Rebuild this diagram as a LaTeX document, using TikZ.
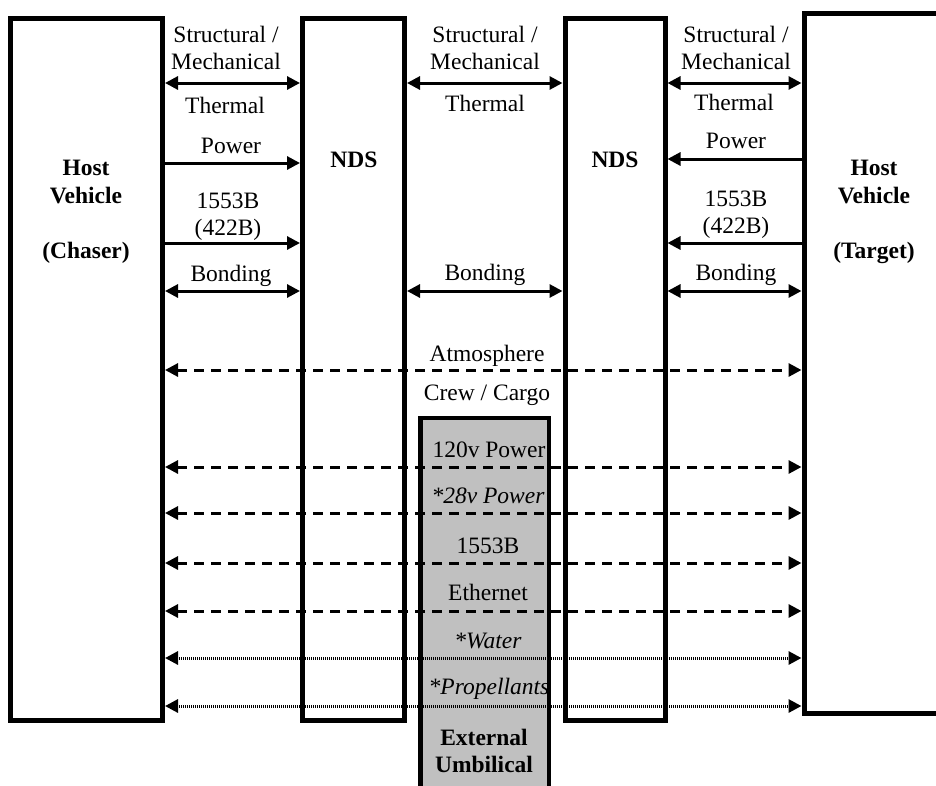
\documentclass[tikz,border=0pt]{standalone}
\usepackage{fontspec}
\setmainfont{Liberation Serif}
\usetikzlibrary{arrows.meta}
\definecolor{umbgray}{HTML}{C0C0C0}
\begin{document}
\begin{tikzpicture}[x=1pt,y=-1pt,
  >={Triangle[length=13pt,width=13pt]},
  hbox/.style={draw,line width=5pt,inner sep=0pt,rectangle},
  lab/.style={font=\fontsize{23.5}{27}\selectfont,inner sep=0pt,anchor=base,align=center},
  blab/.style={lab,font=\fontsize{23.5}{28}\selectfont\bfseries},
  ilab/.style={lab,font=\fontsize{23.5}{27}\selectfont\itshape},
  sline/.style={line width=3pt},
  dline/.style={line width=3pt,dash pattern=on 10pt off 7pt},
  oline/.style={line width=3pt,dash pattern=on 1pt off 1pt}]
\useasboundingbox (0,0) rectangle (936,785);
\clip (0,0) rectangle (936,785);
% boxes
\node[hbox,minimum width=152pt,minimum height=702pt] (lhost) at (86.5,369.5) {};
\node[hbox,minimum width=102pt,minimum height=702pt] (lnds) at (353.5,369.5) {};
\node[hbox,minimum width=100pt,minimum height=702pt] (rnds) at (615,369.5) {};
\node[hbox,minimum width=200pt,minimum height=700pt] (rhost) at (904,363) {};
\node[rectangle,fill=umbgray,inner sep=0pt,outer sep=0pt,minimum width=128.5pt,minimum height=400pt] (umb) at (484.75,618) {};
% levels
\coordinate (ys) at (0,83);
\coordinate (yp) at (0,163);
\coordinate (yq) at (0,159);
\coordinate (yb) at (0,243);
\coordinate (yn) at (0,291);
\coordinate (ya) at (0,370);
\coordinate (y1) at (0,467);
\coordinate (y2) at (0,513);
\coordinate (y3) at (0,563);
\coordinate (y4) at (0,611);
\coordinate (y5) at (0,658);
\coordinate (y6) at (0,706);
% left column
\draw[sline,<->] (lhost.east |- ys) -- (lnds.west |- ys);
\draw[sline,->] (lhost.east |- yp) -- (lnds.west |- yp);
\draw[sline,->] (lhost.east |- yb) -- (lnds.west |- yb);
\draw[sline,<->] (lhost.east |- yn) -- (lnds.west |- yn);
% middle column
\draw[sline,<->] (lnds.east |- ys) -- (rnds.west |- ys);
\draw[sline,<->] (lnds.east |- yn) -- (rnds.west |- yn);
% right column
\draw[sline,<->] (rnds.east |- ys) -- (rhost.west |- ys);
\draw[sline,->] (rhost.west |- yq) -- (rnds.east |- yq);
\draw[sline,->] (rhost.west |- yb) -- (rnds.east |- yb);
\draw[sline,<->] (rnds.east |- yn) -- (rhost.west |- yn);
% long lines
\draw[dline,<->] (lhost.east |- ya) -- (rhost.west |- ya);
\draw[dline,<->] (lhost.east |- y1) -- (rhost.west |- y1);
\draw[dline,<->] (lhost.east |- y2) -- (rhost.west |- y2);
\draw[dline,<->] (lhost.east |- y3) -- (rhost.west |- y3);
\draw[dline,<->] (lhost.east |- y4) -- (rhost.west |- y4);
\draw[oline,<->] (lhost.east |- y5) -- (rhost.west |- y5);
\draw[oline,<->] (lhost.east |- y6) -- (rhost.west |- y6);
% labels left
\node[lab] (l1) at (226,69) {Structural /\\Mechanical};
\node[lab] (l2) at (225,113) {Thermal};
\node[lab] (l3) at (231,153) {Power};
\node[lab] (l4) at (228,235) {1553B\\(422B)};
\node[lab] (l5) at (231,281) {Bonding};
% labels middle
\node[lab] (m1) at (485,69) {Structural /\\Mechanical};
\node[lab] (m2) at (485,111) {Thermal};
\node[lab] (m3) at (485,280) {Bonding};
% labels right
\node[lab] (r1) at (736,69) {Structural /\\Mechanical};
\node[lab] (r2) at (734,110) {Thermal};
\node[lab] (r3) at (736,148) {Power};
\node[lab] (r4) at (736,233) {1553B\\(422B)};
\node[lab] (r5) at (736,280) {Bonding};
% box labels
\node[blab] (t1) at (354,167) {NDS};
\node[blab] (t2) at (615,167) {NDS};
\node[blab] (t3) at (86,258) {Host\\Vehicle\\[27pt](Chaser)};
\node[blab] (t4) at (874,258) {Host\\Vehicle\\[27pt](Target)};
% middle lower
\node[lab] (a1) at (487,361) {Atmosphere};
\node[lab] (a2) at (487,400) {Crew / Cargo};
\node[lab] (g1) at (489,457) {120v Power};
\node[ilab] (g2) at (488,503) {*28v Power};
\node[lab] (g3) at (488,553) {1553B};
\node[lab] (g4) at (488,600) {Ethernet};
\node[ilab] (g5) at (488,648) {*Water};
\node[ilab] (g6) at (489,694) {*Propellants};
\node[blab,font=\fontsize{23.5}{27}\selectfont\bfseries] (g7) at (484,772) {External\\Umbilical};
\draw[line width=4.5pt] (umb.north west) rectangle (umb.south east);
\end{tikzpicture}
\end{document}
